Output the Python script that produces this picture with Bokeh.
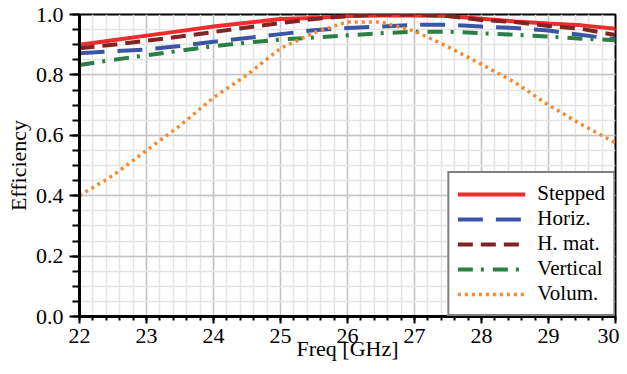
from bokeh.plotting import figure
from bokeh.models import FixedTicker, PrintfTickFormatter, Legend, LegendItem
from bokeh.embed import file_html
from bokeh.resources import INLINE

freq = [22, 22.5, 23, 23.5, 24, 24.5, 25, 25.5, 26, 26.5, 27, 27.5, 28, 28.5, 29, 29.5, 30]
stepped = [0.900, 0.915, 0.930, 0.945, 0.960, 0.973, 0.985, 0.988, 0.995, 0.997, 0.997, 0.995, 0.986, 0.977, 0.970, 0.964, 0.953]
horiz = [0.872, 0.878, 0.884, 0.896, 0.910, 0.922, 0.935, 0.948, 0.955, 0.960, 0.966, 0.966, 0.960, 0.955, 0.947, 0.932, 0.918]
hmat = [0.888, 0.900, 0.913, 0.927, 0.942, 0.957, 0.972, 0.985, 0.995, 1.000, 1.000, 0.995, 0.982, 0.975, 0.962, 0.952, 0.932]
vertical = [0.833, 0.850, 0.865, 0.880, 0.895, 0.907, 0.917, 0.924, 0.931, 0.938, 0.943, 0.943, 0.938, 0.933, 0.927, 0.920, 0.915]
volum = [0.400, 0.467, 0.550, 0.632, 0.725, 0.800, 0.888, 0.940, 0.975, 0.975, 0.945, 0.893, 0.835, 0.775, 0.700, 0.635, 0.575]

series_names = ["Stepped", "Horiz.", "H. mat.", "Vertical", "Volum."]
x_ticks = [22, 23, 24, 25, 26, 27, 28, 29, 30]
x_minor = [22 + 0.2 * i for i in range(41)]
y_ticks = [0.0, 0.2, 0.4, 0.6, 0.8, 1.0]
y_minor = [0.05 * i for i in range(21)]
x_title = "Freq [GHz]"
y_title = "Efficiency"

FONT = "Liberation Serif"

p = figure(width=619, height=366, x_range=(22, 30), y_range=(0, 1.0),
           output_backend="svg", toolbar_location=None,
           min_border_left=79, min_border_right=4, min_border_top=14, min_border_bottom=50)
p.background_fill_color = "white"
p.border_fill_color = "white"
p.outline_line_color = "black"
p.outline_line_width = 2

styles = [
    dict(color="#ee2c2c", line_dash="solid", line_width=4),
    dict(color="#3a55a6", line_dash="25 13", line_width=4),
    dict(color="#832222", line_dash="15 8", line_width=4),
    dict(color="#2a8044", line_dash="15 8 3 9", line_width=4),
    dict(color="#f5892e", line_dash="3 4", line_width=3.5),
]
data = [stepped, horiz, hmat, vertical, volum]
items = []
for name, ys, st in zip(series_names, data, styles):
    r = p.line(freq, ys, line_color=st["color"], line_dash=st["line_dash"], line_width=st["line_width"])
    items.append(LegendItem(label=name, renderers=[r]))

p.xaxis.ticker = FixedTicker(ticks=x_ticks, minor_ticks=x_minor)
p.yaxis.ticker = FixedTicker(ticks=y_ticks, minor_ticks=y_minor)
p.yaxis.formatter = PrintfTickFormatter(format="%.1f")
p.xaxis.formatter = PrintfTickFormatter(format="%d")

for ax in (p.xaxis, p.yaxis):
    ax.axis_line_color = "black"
    ax.axis_line_width = 3
    ax.major_tick_line_color = "black"
    ax.minor_tick_line_color = "black"
    ax.major_tick_line_width = 2
    ax.minor_tick_line_width = 2
    ax.major_tick_in = 0
    ax.minor_tick_in = 0
    ax.major_label_text_font = FONT
    ax.major_label_text_font_size = "22px"
    ax.major_label_text_font_style = "normal"
    ax.major_label_text_color = "black"
    ax.axis_label_text_font = FONT
    ax.axis_label_text_font_size = "22px"
    ax.axis_label_text_font_style = "normal"
    ax.axis_label_text_color = "black"

p.xaxis.major_tick_out = 7
p.xaxis.minor_tick_out = 4
p.xaxis.major_label_standoff = 5
p.xaxis.axis_label = x_title
p.xaxis.axis_label_standoff = -10

p.yaxis.major_tick_out = 10
p.yaxis.minor_tick_out = 7
p.yaxis.major_label_standoff = 6
p.yaxis.axis_label = y_title
p.yaxis.axis_label_standoff = 2

for g in (p.xgrid, p.ygrid):
    g.grid_line_color = "#c4c4c4"
    g.grid_line_width = 1.5
    g.minor_grid_line_color = "#e4e4e4"
    g.minor_grid_line_width = 1.5

legend = Legend(items=items, location="bottom_right")
legend.border_line_color = "black"
legend.border_line_width = 2
legend.background_fill_color = "white"
legend.background_fill_alpha = 1.0
legend.label_text_font = FONT
legend.label_text_font_size = "21px"
legend.label_text_font_style = "normal"
legend.label_text_color = "black"
legend.glyph_width = 68
legend.glyph_height = 24
legend.label_height = 24
legend.label_standoff = 12
legend.spacing = 0
legend.padding = 8
legend.margin = 0
p.add_layout(legend)

open("out.html", "w").write(file_html(p, INLINE))
